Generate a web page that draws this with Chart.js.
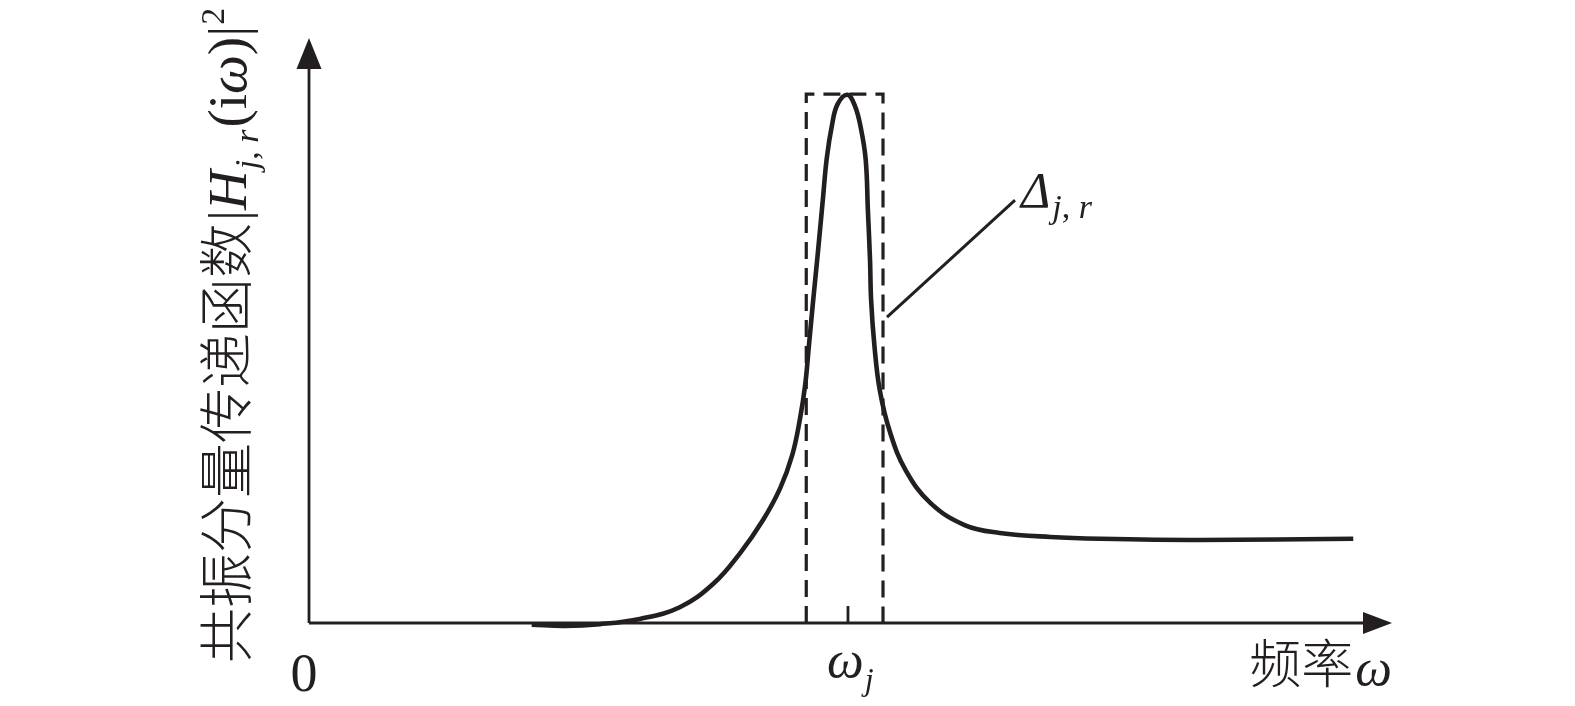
<!DOCTYPE html>
<html>
<head>
<meta charset="utf-8">
<script src="https://cdn.jsdelivr.net/npm/chart.js@4/dist/chart.umd.min.js"></script>
<style>
  html, body { margin: 0; padding: 0; background: #fff; }
  #chart { display: block; }
</style>
</head>
<body>
<canvas id="chart" width="1575" height="706"></canvas>
<script>
// resonance curve, arbitrary units (axis 0..100 both ways)
const freq = [20.6, 23.7, 26.9, 30.6, 34.3, 37.4, 39.9, 42.0, 43.6, 44.7, 45.4, 45.9, 46.25, 46.6, 47.1, 47.55,
  47.9, 48.4, 48.9, 49.8, 50.5, 51.05, 51.5, 51.7, 51.9, 52.0, 52.3, 52.8, 53.75, 55.2, 57.5, 60.7, 63.9, 68.6,
  73.2, 82.4, 96.6];
const amplitude = [-0.3, -0.5, -0.2, 0.7, 2.7, 6.7, 12.0, 17.6, 23.1, 28.7, 34.7, 40.7, 47.5, 54.4, 63.8, 72.7,
  79.5, 85.3, 88.7, 90.3, 88.4, 84.6, 79.2, 70.6, 62.0, 55.2, 47.5, 39.8, 32.6, 26.1, 20.5, 16.7, 15.4, 14.7,
  14.4, 14.2, 14.4];

// bandwidth box around the peak
const boxX = [46.0, 46.0, 53.1, 53.1];
const boxY = [0, 90.4, 90.4, 0];

// tick at omega_j
const tickX = [49.86, 49.86];
const tickY = [0, 2.9];

// leader line to the Delta label
const leaderX = [53.47, 65.31];
const leaderY = [52.3, 72.3];

const axisMax = 100;

const ink = '#231f20';
const serif = '"Liberation Serif", "DejaVu Serif", serif';
const cjk = '"Noto Sans CJK SC", sans-serif';

function pts(xs, ys) {
  return xs.map((x, i) => ({ x: x, y: ys[i] }));
}

// draws a row of text segments starting at (0,0) in current transform
function drawRuns(ctx, runs) {
  let x = 0;
  runs.forEach((r) => {
    ctx.font = r.font;
    ctx.fillText(r.text, x + (r.dx || 0), r.dy || 0);
    x += ctx.measureText(r.text).width + (r.dx || 0);
  });
  return x;
}

const decorations = {
  id: 'decorations',
  afterDatasetsDraw(chart) {
    const ctx = chart.ctx;
    const xs = chart.scales.x;
    const ys = chart.scales.y;
    const x0 = xs.getPixelForValue(0);
    const y0 = ys.getPixelForValue(0);
    const xEnd = xs.getPixelForValue(axisMax);
    const yEnd = ys.getPixelForValue(axisMax);

    ctx.save();
    ctx.fillStyle = ink;

    // arrow heads
    ctx.beginPath();
    ctx.moveTo(x0, yEnd);
    ctx.lineTo(x0 - 12.5, yEnd + 31);
    ctx.lineTo(x0 + 12.5, yEnd + 31);
    ctx.closePath();
    ctx.fill();
    ctx.beginPath();
    ctx.moveTo(xEnd + 2, y0);
    ctx.lineTo(xEnd - 27, y0 - 11);
    ctx.lineTo(xEnd - 27, y0 + 11);
    ctx.closePath();
    ctx.fill();

    ctx.textBaseline = 'alphabetic';

    // origin
    ctx.textAlign = 'center';
    ctx.font = '54px ' + serif;
    ctx.fillText('0', x0 - 5, y0 + 68);

    // x axis title
    ctx.textAlign = 'left';
    ctx.font = 'italic 52px ' + serif;
    const wOmega = ctx.measureText('\u03c9').width;
    ctx.fillText('\u03c9', xEnd + 2 - wOmega, y0 + 62);
    ctx.font = '300 52px ' + cjk;
    const wCjk = ctx.measureText('频率').width;
    ctx.fillText('频率', xEnd + 2 - wOmega - wCjk - 2, y0 + 60);

    // omega_j under the tick
    ctx.save();
    ctx.translate(xs.getPixelForValue(tickX[0]) - 21, y0 + 54);
    drawRuns(ctx, [
      { text: '\u03c9', font: 'italic 52px ' + serif },
      { text: 'j', font: 'italic 32px ' + serif, dy: 13, dx: 1 }
    ]);
    ctx.restore();

    // Delta_{j,r}
    ctx.save();
    ctx.translate(xs.getPixelForValue(leaderX[1]) + 6, ys.getPixelForValue(leaderY[1]) + 7);
    drawRuns(ctx, [
      { text: '\u0394', font: 'italic 50px ' + serif },
      { text: 'j', font: 'italic 34px ' + serif, dy: 11, dx: 2 },
      { text: ', ', font: '34px ' + serif, dy: 11 },
      { text: 'r', font: 'italic 34px ' + serif, dy: 11 }
    ]);
    ctx.restore();

    // y axis title, rotated
    ctx.save();
    ctx.translate(x0 - 63, y0 + 40);
    ctx.rotate(-Math.PI / 2);
    drawRuns(ctx, [
      { text: '共振分量传递函数', font: '300 55px ' + cjk },
      { text: '|', font: '55px ' + serif, dx: 2 },
      { text: 'H', font: 'italic 55px ' + serif },
      { text: 'j', font: 'italic 34px ' + serif, dy: 12, dx: 1 },
      { text: ', ', font: '34px ' + serif, dy: 12 },
      { text: 'r', font: 'italic 34px ' + serif, dy: 12 },
      { text: '(i', font: '55px ' + serif, dx: 2 },
      { text: '\u03c9', font: 'italic 55px ' + serif },
      { text: ')|', font: '55px ' + serif },
      { text: '2', font: '34px ' + serif, dy: -22, dx: 1 }
    ]);
    ctx.restore();

    ctx.restore();
  }
};

new Chart(document.getElementById('chart'), {
  type: 'scatter',
  data: {
    datasets: [
      {
        data: pts([0, axisMax - 1], [0, 0]),
        showLine: true, borderColor: ink, borderWidth: 2.8, pointRadius: 0, clip: false
      },
      {
        data: pts([0, 0], [0, axisMax - 2]),
        showLine: true, borderColor: ink, borderWidth: 2.8, pointRadius: 0, clip: false
      },
      {
        data: pts(freq, amplitude),
        showLine: true, borderColor: ink, borderWidth: 4.6, pointRadius: 0,
        tension: 0.4, borderJoinStyle: 'round', clip: false
      },
      {
        data: pts(boxX, boxY),
        showLine: true, borderColor: ink, borderWidth: 3.2, borderDash: [17, 9], pointRadius: 0, clip: false
      },
      {
        data: pts(tickX, tickY),
        showLine: true, borderColor: ink, borderWidth: 2.8, pointRadius: 0, clip: false
      },
      {
        data: pts(leaderX, leaderY),
        showLine: true, borderColor: ink, borderWidth: 3, pointRadius: 0, clip: false
      }
    ]
  },
  options: {
    responsive: false,
    animation: false,
    layout: { padding: { left: 309, right: 185, top: 38, bottom: 83 } },
    scales: {
      x: { type: 'linear', min: 0, max: axisMax, display: false },
      y: { type: 'linear', min: 0, max: axisMax, display: false }
    },
    plugins: {
      legend: { display: false },
      tooltip: { enabled: false }
    }
  },
  plugins: [decorations]
});
</script>
</body>
</html>
